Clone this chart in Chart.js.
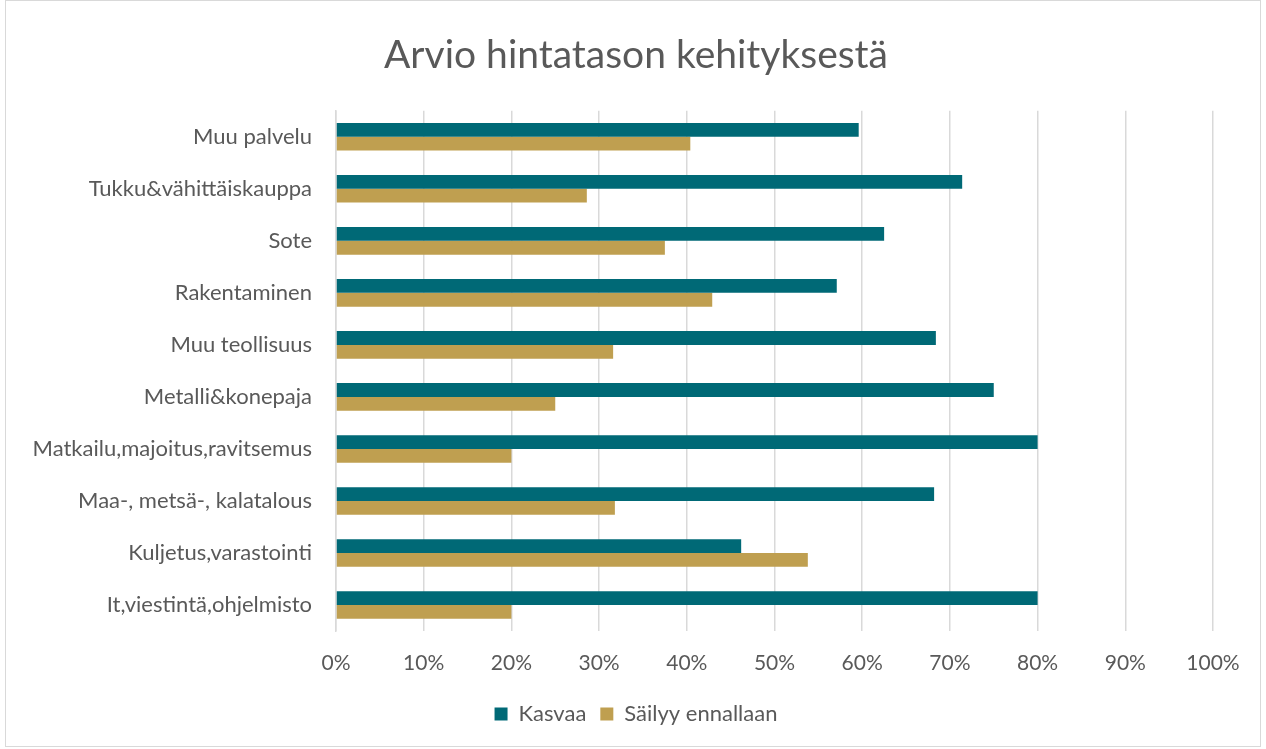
<!DOCTYPE html>
<html>
<head>
<meta charset="utf-8">
<script src="https://cdn.jsdelivr.net/npm/chart.js@4"></script>
<style>
  html, body { margin: 0; padding: 0; background: #fff; }
  #wrap { width: 1266px; height: 749px; position: relative; }
  #frame { position: absolute; left: 5px; top: 0; width: 1256px; height: 747px; border: 1px solid #d9d9d9; box-sizing: border-box; pointer-events: none; }
</style>
</head>
<body>
<div id="wrap">
  <canvas id="chart" width="1266" height="749"></canvas>
  <div id="frame"></div>
</div>
<script>
const categories = [
  'Muu palvelu',
  'Tukku&vähittäiskauppa',
  'Sote',
  'Rakentaminen',
  'Muu teollisuus',
  'Metalli&konepaja',
  'Matkailu,majoitus,ravitsemus',
  'Maa-, metsä-, kalatalous',
  'Kuljetus,varastointi',
  'It,viestintä,ohjelmisto'
];
const kasvaa = [59.6, 71.4, 62.5, 57.1, 68.4, 75.0, 80.0, 68.2, 46.2, 80.0];
const sailyy = [40.4, 28.6, 37.5, 42.9, 31.6, 25.0, 20.0, 31.8, 53.8, 20.0];
const xTicks = [0, 10, 20, 30, 40, 50, 60, 70, 80, 90, 100];

const FONT = "'Lato', 'Open Sans', sans-serif";
const GREY = '#595959';

// y labels hang out to the left of the scale box so the title and legend
// stay centred on the whole picture; drop the label clip so they show
const noLabelClip = {
  id: 'noLabelClip',
  beforeDraw(chart) {
    chart.scales.y._computeLabelArea = () => undefined;
  }
};

new Chart(document.getElementById('chart').getContext('2d'), {
  type: 'bar',
  data: {
    labels: categories,
    datasets: [
      { label: 'Kasvaa', data: kasvaa, backgroundColor: '#006976', categoryPercentage: 0.53, barPercentage: 1.0 },
      { label: 'Säilyy ennallaan', data: sailyy, backgroundColor: '#bf9f50', categoryPercentage: 0.53, barPercentage: 1.0 }
    ]
  },
  options: {
    indexAxis: 'y',
    responsive: false,
    animation: false,
    layout: { padding: { left: 59, right: 53, top: 0, bottom: 14 } },
    plugins: {
      title: {
        display: true,
        text: 'Arvio hintatason kehityksestä',
        color: GREY,
        font: { family: FONT, size: 39, weight: 'normal' },
        padding: { top: 32, bottom: 32 }
      },
      legend: {
        position: 'bottom',
        labels: {
          color: GREY,
          font: { family: FONT, size: 22 },
          boxWidth: 13,
          boxHeight: 13,
          padding: 14
        }
      },
      tooltip: { enabled: false }
    },
    scales: {
      x: {
        min: 0,
        max: 100,
        afterBuildTicks: s => { s.ticks = xTicks.map(v => ({ value: v })); },
        ticks: {
          color: GREY,
          font: { family: FONT, size: 21 },
          padding: 20,
          callback: v => v + '%'
        },
        grid: { color: '#d9d9d9', lineWidth: 1.5, drawTicks: false },
        border: { display: false },
        afterFit: s => { s.height = 58; }
      },
      y: {
        ticks: {
          color: GREY,
          font: { family: FONT, size: 22 },
          padding: 24
        },
        grid: { display: false, drawTicks: false },
        border: { display: true, color: '#d9d9d9', width: 1.5 },
        afterFit: s => { s.width = 277; }
      }
    }
  },
  plugins: [noLabelClip]
});
</script>
</body>
</html>
